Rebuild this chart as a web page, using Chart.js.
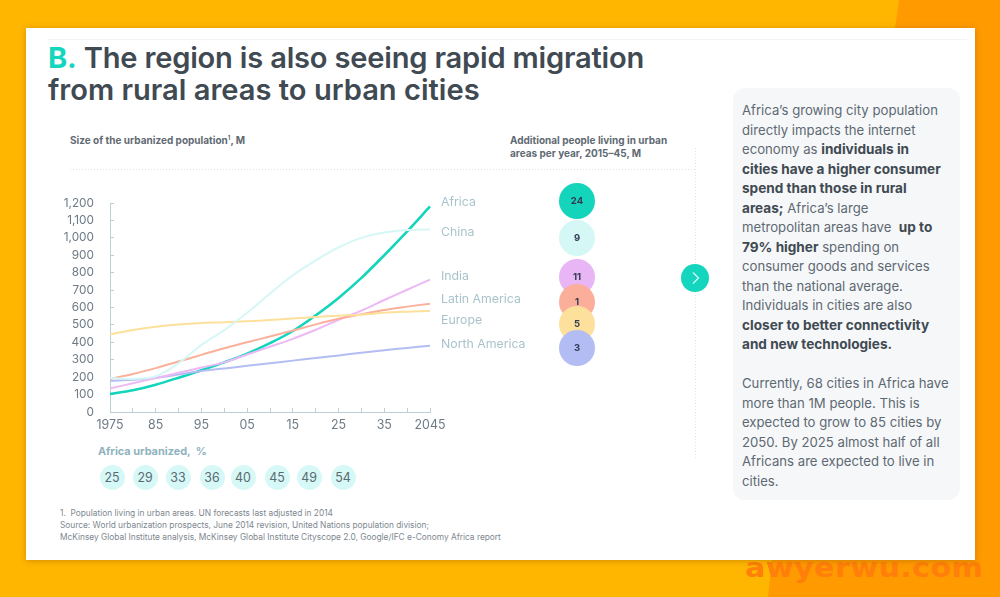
<!DOCTYPE html>
<html><head><meta charset="utf-8">
<style>
html,body{margin:0;padding:0;width:1000px;height:597px;overflow:hidden;background:#FFB600;font-family:Inter,"Noto Sans",sans-serif}
#orange{position:absolute;inset:0;background:#FF9A00;clip-path:polygon(899px 0,1000px 0,1000px 597px,768px 597px,772px 560px,895px 28px)}
#wm{position:absolute;left:745px;top:552px;font:bold 27px "DejaVu Sans",sans-serif;letter-spacing:.3px;color:#FF7F0A;white-space:nowrap;transform:scaleX(1.12);transform-origin:0 0}
#card{position:absolute;left:26px;top:28px;width:949px;height:532px;background:#fff;box-shadow:0 1px 6px rgba(150,90,0,.45)}
#hr{position:absolute;left:48px;top:39px;width:919px;height:1px;background:#f1f3f4}
.t{position:absolute;white-space:nowrap}
#title{left:48px;top:42px;font-size:29.1px;font-weight:600;line-height:32px;color:#3f4a52}
#title .l1{letter-spacing:-.2px}
#title b{color:#14d5bd;font-weight:700}
.sub{font-size:10px;font-weight:700;color:#5f6a73;line-height:12.5px}
sup{font-size:6px;line-height:0}
#panel{position:absolute;left:733px;top:88px;width:227px;height:412px;border-radius:12px;background:#f6f7f9}
#ptext{left:742px;top:101px;font-size:13.17px;line-height:19.5px;color:#5d6972}
#ptext b{color:#3f4a52;font-weight:700;font-size:13.6px}
#chartbox{position:absolute;left:50px;top:190px;width:400px;height:250px}
.sl{position:absolute;left:441px;font-size:12.3px;line-height:16px;color:#a9c3cc;white-space:nowrap}
.bub{position:absolute;left:559px;width:36px;height:36px;border-radius:50%;text-align:center;line-height:36px;font-size:9.5px;font-weight:700;color:#333b55}
.pct{position:absolute;top:464.5px;width:25px;height:25px;border-radius:50%;background:#d6f8f6;text-align:center;line-height:25px;font-size:12.4px;color:#5a6a72}
#ul{left:98px;top:444px;font-size:10.9px;font-weight:700;color:#8fb3c0}
#foot{left:60px;top:507px;font-size:8.33px;line-height:12.1px;color:#7d878f}
.hd{position:absolute;left:70px;top:169px;width:625px;height:1px;background:repeating-linear-gradient(to right,#dde3e6 0 1px,transparent 1px 3px)}
.vd{position:absolute;left:695px;top:148px;width:1px;height:312px;background:repeating-linear-gradient(to bottom,#dde3e6 0 1px,transparent 1px 3px)}
#arrow{position:absolute;left:681px;top:264px;width:28px;height:28px;border-radius:50%;background:#14d5bd}
#arrow svg{position:absolute;left:0;top:0}
</style></head><body>
<div id="orange"></div>
<div id="wm">awyerwu.com</div>
<div id="card"></div>
<div id="hr"></div>
<div class="t" id="title"><span class="l1"><b>B.</b> The region is also seeing rapid migration</span><br>from rural areas to urban cities</div>
<div class="t sub" style="left:70px;top:134px">Size of the urbanized population<sup>1</sup>, M</div>
<div class="t sub" style="left:510px;top:134px">Additional people living in urban<br>areas per year, 2015–45, M</div>
<div class="hd"></div><div class="vd"></div>
<div id="chartbox"><canvas id="c"></canvas></div>
<div id="labels"></div>
<div class="t" id="ul">Africa urbanized,&nbsp;&nbsp;%</div>
<div id="pcts"></div>
<div class="t" id="foot">1.&nbsp;&nbsp;Population living in urban areas. UN forecasts last adjusted in 2014<br>Source: World urbanization prospects, June 2014 revision, United Nations population division;<br>McKinsey Global Institute analysis, McKinsey Global Institute Cityscope 2.0, Google/IFC e-Conomy Africa report</div>
<div id="panel"></div>
<div class="t" id="ptext">Africa’s growing city population<br>directly impacts the internet<br>economy as <b>individuals in</b><br><b>cities have a higher consumer</b><br><b>spend than those in rural</b><br><b>areas;</b> Africa’s large<br>metropolitan areas have&nbsp;&nbsp;<b>up to</b><br><b>79% higher</b> spending on<br>consumer goods and services<br>than the national average.<br>Individuals in cities are also<br><b>closer to better connectivity</b><br><b>and new technologies.</b><br><br>Currently, 68 cities in Africa have<br>more than 1M people. This is<br>expected to grow to 85 cities by<br>2050. By 2025 almost half of all<br>Africans are expected to live in<br>cities.</div>
<div id="arrow"><svg width="28" height="28"><path d="M12 8.5 L17.5 14 L12 19.5" fill="none" stroke="#d8fbf6" stroke-width="1.2"/></svg></div>
<script src="https://cdn.jsdelivr.net/npm/chart.js@4"></script>
<script>
const years = [1975,1980,1985,1990,1995,2000,2005,2010,2015,2020,2025,2030,2035,2040,2045];
const xTickLabels = ['1975','','85','','95','','05','','15','','25','','35','','2045'];
const africa = [103,125,157,197,240,285,335,395,465,555,655,770,900,1037,1180];
const china = [195,190,205,280,385,470,570,680,785,870,945,1000,1030,1045,1048];
const india = [135,165,195,225,255,285,330,375,420,472,529,582,643,702,760];
const latinAmerica = [190,218,252,290,328,366,400,434,468,503,535,561,586,605,622];
const europe = [446,471,490,503,511,515,521,528,537,546,553,559,570,576,580];
const northAmerica = [180,185,195,215,235,250,265,280,295,310,325,340,355,368,380];
const seriesNames = ['Africa','China','India','Latin America','Europe','North America'];
const additionalPerYear = [24,9,11,1,5,3];
const africaUrbanized = [25,29,33,36,40,45,49,54];

const colors = {Africa:'#14d5bb',China:'#d5f7f5',India:'#ecb8f5','Latin America':'#fbb09c',Europe:'#fde09c','North America':'#b3bdf3'};
const bubbleFill = ['#14d5bb','#d5f7f5','#e8b6f4','#fbaf9b','#fce09b','#b3bdf3'];
const labelTop = [194,224,268,291,312,336];
const bubbleTop = [183,220,259,284,306,330];
const pctLeft = [99.5,132.5,165.5,199.5,230.5,264.5,296.5,330.5];

seriesNames.forEach((n,i)=>{
  const d=document.createElement('div');d.className='sl';d.textContent=n;d.style.top=labelTop[i]+'px';labels.appendChild(d);
  const b=document.createElement('div');b.className='bub';b.textContent=additionalPerYear[i];b.style.top=bubbleTop[i]+'px';b.style.background=bubbleFill[i];labels.appendChild(b);
});
africaUrbanized.forEach((v,i)=>{
  const d=document.createElement('div');d.className='pct';d.textContent=v;d.style.left=pctLeft[i]+'px';pcts.appendChild(d);
});

const noPad=s=>{s.paddingLeft=0;s.paddingRight=0;s.paddingTop=0;s.paddingBottom=0;};
const ds=(label,data,w)=>({label,data,borderColor:colors[label],borderWidth:w,pointRadius:0,tension:0.35,fill:false,clip:false});
new Chart(document.getElementById('c'),{
  type:'line',
  data:{labels:years,datasets:[ds('China',china,2),ds('Europe',europe,2),ds('Latin America',latinAmerica,2),ds('India',india,2),ds('North America',northAmerica,2),ds('Africa',africa,2.6)]},
  options:{
    responsive:true,maintainAspectRatio:false,animation:false,
    layout:{padding:{top:13,right:20,left:0,bottom:0}},
    plugins:{legend:{display:false},tooltip:{enabled:false}},
    scales:{
      x:{type:'category',offset:false,
        afterFit(s){s.height=28;noPad(s);},
        border:{color:'#bccfd5',width:1},
        grid:{drawOnChartArea:false,drawTicks:true,tickLength:-4,color:'#bccfd5'},
        ticks:{autoSkip:false,maxRotation:0,minRotation:0,padding:10,color:'#6d7a85',font:{family:'Inter',size:12.4},callback:(v,i)=>xTickLabels[i]}},
      y:{type:'linear',min:0,max:1200,
        afterFit(s){s.width=60;noPad(s);},
        border:{color:'#bccfd5',width:1},
        grid:{drawOnChartArea:false,drawTicks:true,tickLength:-4,color:'#bccfd5'},
        ticks:{autoSkip:false,stepSize:100,padding:20,color:'#6d7a85',font:{family:'Inter',size:11.8},callback:v=>v.toLocaleString('en-US')}}
    }
  }
});
</script>
</body></html>
